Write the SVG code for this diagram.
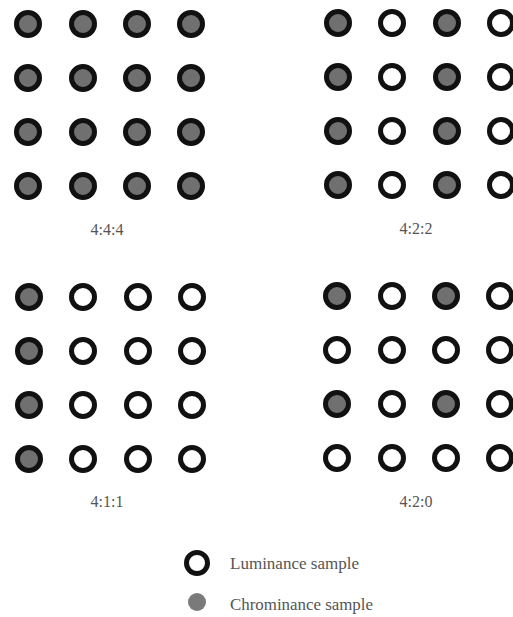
<svg xmlns="http://www.w3.org/2000/svg" width="513" height="617" viewBox="0 0 513 617">
<defs>
<style>
.c{fill:#707070;stroke:#111;stroke-width:5}
.l{fill:#fff;stroke:#111;stroke-width:5}
.t{font-family:"Liberation Serif",serif;font-size:16px;fill:#555}
.lab{font-family:"Liberation Serif",serif;font-size:16px;fill:#555;text-anchor:middle}
</style>
<circle id="C" class="c" r="11.5"/>
<circle id="L" class="l" r="11.5"/>
</defs>
<rect width="513" height="617" fill="#fff"/>
<g id="p444">
<use href="#C" x="28" y="24"/><use href="#C" x="83" y="24"/><use href="#C" x="137" y="24"/><use href="#C" x="191" y="24"/>
<use href="#C" x="28" y="78"/><use href="#C" x="83" y="78"/><use href="#C" x="137" y="78"/><use href="#C" x="191" y="78"/>
<use href="#C" x="28" y="132"/><use href="#C" x="83" y="132"/><use href="#C" x="137" y="132"/><use href="#C" x="191" y="132"/>
<use href="#C" x="28" y="186"/><use href="#C" x="83" y="186"/><use href="#C" x="137" y="186"/><use href="#C" x="191" y="186"/>
<text class="lab" x="107" y="235">4:4:4</text>
</g>
<g id="p422">
<use href="#C" x="338" y="23"/><use href="#L" x="392" y="23"/><use href="#C" x="447" y="23"/><use href="#L" x="501" y="23"/>
<use href="#C" x="338" y="77"/><use href="#L" x="392" y="77"/><use href="#C" x="447" y="77"/><use href="#L" x="501" y="77"/>
<use href="#C" x="338" y="131"/><use href="#L" x="392" y="131"/><use href="#C" x="447" y="131"/><use href="#L" x="501" y="131"/>
<use href="#C" x="338" y="185"/><use href="#L" x="392" y="185"/><use href="#C" x="447" y="185"/><use href="#L" x="501" y="185"/>
<text class="lab" x="416" y="234">4:2:2</text>
</g>
<g id="p411">
<use href="#C" x="29" y="297"/><use href="#L" x="83" y="297"/><use href="#L" x="138" y="297"/><use href="#L" x="192" y="297"/>
<use href="#C" x="29" y="351"/><use href="#L" x="83" y="351"/><use href="#L" x="138" y="351"/><use href="#L" x="192" y="351"/>
<use href="#C" x="29" y="405"/><use href="#L" x="83" y="405"/><use href="#L" x="138" y="405"/><use href="#L" x="192" y="405"/>
<use href="#C" x="29" y="459"/><use href="#L" x="83" y="459"/><use href="#L" x="138" y="459"/><use href="#L" x="192" y="459"/>
<text class="lab" x="107" y="507">4:1:1</text>
</g>
<g id="p420">
<use href="#C" x="337" y="296"/><use href="#L" x="392" y="296"/><use href="#C" x="446" y="296"/><use href="#L" x="500" y="296"/>
<use href="#L" x="337" y="350"/><use href="#L" x="392" y="350"/><use href="#L" x="446" y="350"/><use href="#L" x="500" y="350"/>
<use href="#C" x="337" y="404"/><use href="#L" x="392" y="404"/><use href="#C" x="446" y="404"/><use href="#L" x="500" y="404"/>
<use href="#L" x="337" y="458"/><use href="#L" x="392" y="458"/><use href="#L" x="446" y="458"/><use href="#L" x="500" y="458"/>
<text class="lab" x="416" y="507">4:2:0</text>
</g>
<g id="legend">
<circle class="l" cx="197" cy="563" r="10.5"/>
<text class="t" x="230" y="569" textLength="129" lengthAdjust="spacingAndGlyphs">Luminance sample</text>
<circle cx="197" cy="602" r="9" fill="#7a7a7a"/>
<text class="t" x="230" y="610" textLength="143" lengthAdjust="spacingAndGlyphs">Chrominance sample</text>
</g>
</svg>
